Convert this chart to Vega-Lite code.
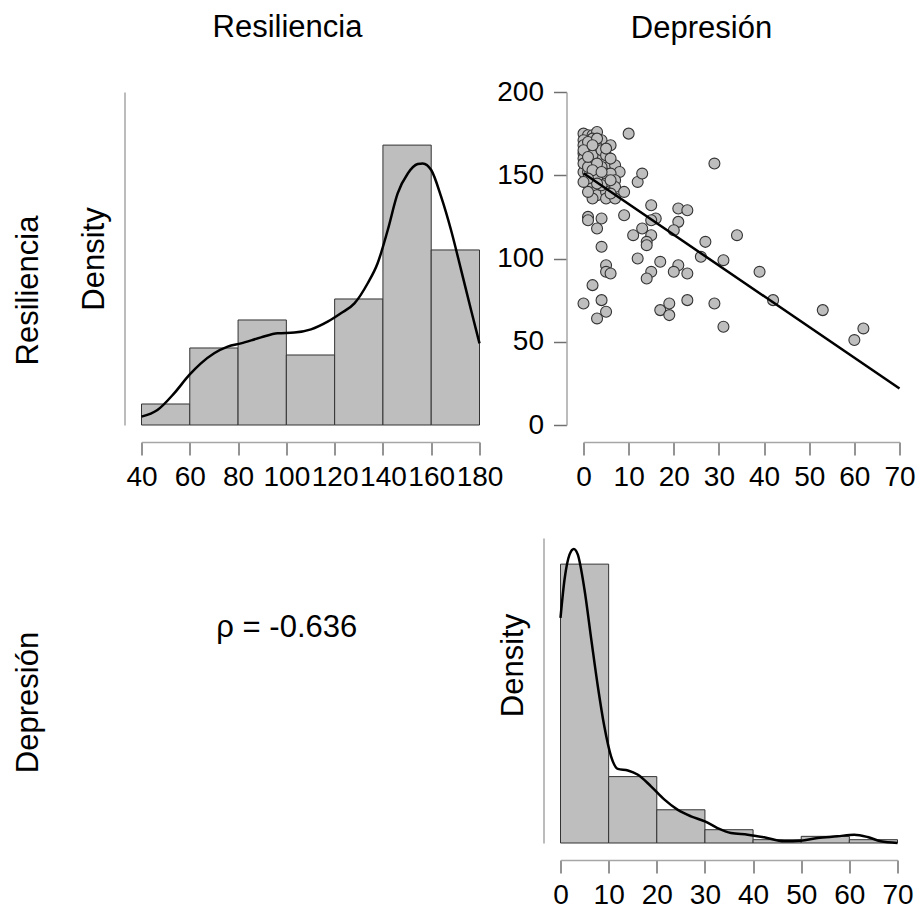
{
  "$schema": "https://vega.github.io/schema/vega-lite/v6.json",
  "background": "white",
  "padding": {"left": 12.5, "top": 12, "right": 0, "bottom": 0},
  "config": {
    "font": "Liberation Sans",
    "view": {"stroke": null},
    "axis": {"grid": false, "domainColor": "#a6a6a6", "domainWidth": 1.5, "tickColor": "#707070", "tickWidth": 1.5, "tickSize": 13, "labelFontSize": 28, "labelColor": "#000000", "labelFont": "Liberation Sans", "labelOverlap": false, "labelFlush": false, "labelBound": false, "titleFontSize": 31, "titleFontWeight": "normal", "titleColor": "#000000", "titleFont": "Liberation Sans", "offset": 17, "labelPadding": 8},
    "title": {"fontSize": 31, "fontWeight": "normal", "font": "Liberation Sans", "color": "#000000"}
  },
  "datasets": {
    "resHist": [
      {"lo": 40, "hi": 60, "density": 0.00123},
      {"lo": 60, "hi": 80, "density": 0.00451},
      {"lo": 80, "hi": 100, "density": 0.00615},
      {"lo": 100, "hi": 120, "density": 0.0041},
      {"lo": 120, "hi": 140, "density": 0.00738},
      {"lo": 140, "hi": 160, "density": 0.01639},
      {"lo": 160, "hi": 180, "density": 0.01025}
    ],
    "resDens": [
      {"value": 40, "density": 0.000488}, {"value": 46.6, "density": 0.000878}, {"value": 53.5, "density": 0.00185}, {"value": 59.8, "density": 0.00293}, {"value": 64.6, "density": 0.00361}, {"value": 70.1, "density": 0.0042}, {"value": 75.7, "density": 0.00459}, {"value": 81.2, "density": 0.00478}, {"value": 89.5, "density": 0.00513}, {"value": 96.4, "density": 0.00537}, {"value": 103.3, "density": 0.00541}, {"value": 110.2, "density": 0.0056}, {"value": 117.1, "density": 0.00605}, {"value": 122.6, "density": 0.00654}, {"value": 128.2, "density": 0.00712}, {"value": 133.7, "density": 0.0083}, {"value": 137.8, "density": 0.00947}, {"value": 142, "density": 0.01142}, {"value": 146.1, "density": 0.01356}, {"value": 150.3, "density": 0.01473}, {"value": 154.4, "density": 0.01528}, {"value": 156.5, "density": 0.01532}, {"value": 160, "density": 0.01493}, {"value": 164.1, "density": 0.01337}, {"value": 168.2, "density": 0.01142}, {"value": 172.4, "density": 0.00907}, {"value": 176.5, "density": 0.00673}, {"value": 180, "density": 0.00478}
    ],
    "depHist": [
      {"lo": 0, "hi": 10, "density": 0.06885},
      {"lo": 10, "hi": 20, "density": 0.01639},
      {"lo": 20, "hi": 30, "density": 0.0082},
      {"lo": 30, "hi": 40, "density": 0.00328},
      {"lo": 40, "hi": 50, "density": 0.00082},
      {"lo": 50, "hi": 60, "density": 0.00164},
      {"lo": 60, "hi": 70, "density": 0.00082}
    ],
    "depDens": [
      {"value": 0, "density": 0.0556}, {"value": 0.83, "density": 0.065}, {"value": 1.87, "density": 0.0712}, {"value": 2.77, "density": 0.0726}, {"value": 3.6, "density": 0.0712}, {"value": 4.98, "density": 0.0626}, {"value": 6.4, "density": 0.0502}, {"value": 7.75, "density": 0.0387}, {"value": 9.1, "density": 0.0288}, {"value": 10.5, "density": 0.0214}, {"value": 11.9, "density": 0.0183}, {"value": 14, "density": 0.0179}, {"value": 16, "density": 0.0169}, {"value": 18.8, "density": 0.014}, {"value": 21.6, "density": 0.0107}, {"value": 24.3, "density": 0.00823}, {"value": 27.1, "density": 0.00658}, {"value": 30, "density": 0.00535}, {"value": 32.6, "density": 0.0037}, {"value": 35.4, "density": 0.00247}, {"value": 38.9, "density": 0.00206}, {"value": 42.3, "density": 0.0014}, {"value": 46.5, "density": 0.00041}, {"value": 49.9, "density": 0.00058}, {"value": 53.4, "density": 0.00123}, {"value": 57.5, "density": 0.00165}, {"value": 61, "density": 0.00206}, {"value": 63.8, "density": 0.00148}, {"value": 66.5, "density": 0.00041}, {"value": 70, "density": 0.0}
    ],
    "scatter": [
      {"Depresion": 0, "Resiliencia": 175}, {"Depresion": 1, "Resiliencia": 174}, {"Depresion": 2, "Resiliencia": 174}, {"Depresion": 3, "Resiliencia": 176}, {"Depresion": 2, "Resiliencia": 172}, {"Depresion": 0, "Resiliencia": 171}, {"Depresion": 4, "Resiliencia": 171}, {"Depresion": 0, "Resiliencia": 168}, {"Depresion": 6, "Resiliencia": 168}, {"Depresion": 0, "Resiliencia": 163}, {"Depresion": 1, "Resiliencia": 164}, {"Depresion": 0, "Resiliencia": 160}, {"Depresion": 3, "Resiliencia": 162}, {"Depresion": 4, "Resiliencia": 160}, {"Depresion": 2, "Resiliencia": 157}, {"Depresion": 5, "Resiliencia": 157}, {"Depresion": 6, "Resiliencia": 156}, {"Depresion": 7, "Resiliencia": 156}, {"Depresion": 2, "Resiliencia": 159}, {"Depresion": 8, "Resiliencia": 152}, {"Depresion": 0, "Resiliencia": 152}, {"Depresion": 1, "Resiliencia": 152}, {"Depresion": 3, "Resiliencia": 153}, {"Depresion": 5, "Resiliencia": 151}, {"Depresion": 6, "Resiliencia": 151}, {"Depresion": 2, "Resiliencia": 150}, {"Depresion": 4, "Resiliencia": 148}, {"Depresion": 2, "Resiliencia": 147}, {"Depresion": 5, "Resiliencia": 147}, {"Depresion": 7, "Resiliencia": 147}, {"Depresion": 6, "Resiliencia": 143}, {"Depresion": 3, "Resiliencia": 143}, {"Depresion": 5, "Resiliencia": 145}, {"Depresion": 2, "Resiliencia": 141}, {"Depresion": 4, "Resiliencia": 140}, {"Depresion": 7, "Resiliencia": 143}, {"Depresion": 9, "Resiliencia": 140}, {"Depresion": 3, "Resiliencia": 138}, {"Depresion": 5, "Resiliencia": 140}, {"Depresion": 2, "Resiliencia": 136}, {"Depresion": 5, "Resiliencia": 136}, {"Depresion": 7, "Resiliencia": 136}, {"Depresion": 1, "Resiliencia": 170}, {"Depresion": 3, "Resiliencia": 167}, {"Depresion": 1, "Resiliencia": 158}, {"Depresion": 4, "Resiliencia": 155}, {"Depresion": 2, "Resiliencia": 165}, {"Depresion": 0, "Resiliencia": 157}, {"Depresion": 3, "Resiliencia": 148}, {"Depresion": 1, "Resiliencia": 145}, {"Depresion": 4, "Resiliencia": 144}, {"Depresion": 6, "Resiliencia": 139}, {"Depresion": 1, "Resiliencia": 140}, {"Depresion": 10, "Resiliencia": 175}, {"Depresion": 2, "Resiliencia": 162}, {"Depresion": 4, "Resiliencia": 165}, {"Depresion": 5, "Resiliencia": 162}, {"Depresion": 1, "Resiliencia": 155}, {"Depresion": 3, "Resiliencia": 157}, {"Depresion": 0, "Resiliencia": 165}, {"Depresion": 6, "Resiliencia": 160}, {"Depresion": 2, "Resiliencia": 153}, {"Depresion": 4, "Resiliencia": 152}, {"Depresion": 3, "Resiliencia": 145}, {"Depresion": 1, "Resiliencia": 148}, {"Depresion": 0, "Resiliencia": 146}, {"Depresion": 3, "Resiliencia": 172}, {"Depresion": 5, "Resiliencia": 166}, {"Depresion": 2, "Resiliencia": 168}, {"Depresion": 1, "Resiliencia": 161}, {"Depresion": 6, "Resiliencia": 147},
      {"Depresion": 12, "Resiliencia": 146}, {"Depresion": 13, "Resiliencia": 151}, {"Depresion": 29, "Resiliencia": 157}, {"Depresion": 15, "Resiliencia": 132}, {"Depresion": 21, "Resiliencia": 130}, {"Depresion": 23, "Resiliencia": 129}, {"Depresion": 16, "Resiliencia": 124}, {"Depresion": 15, "Resiliencia": 123}, {"Depresion": 9, "Resiliencia": 126}, {"Depresion": 1, "Resiliencia": 125}, {"Depresion": 1, "Resiliencia": 123}, {"Depresion": 4, "Resiliencia": 124}, {"Depresion": 3, "Resiliencia": 118}, {"Depresion": 21, "Resiliencia": 122}, {"Depresion": 20, "Resiliencia": 117}, {"Depresion": 13, "Resiliencia": 118}, {"Depresion": 11, "Resiliencia": 114}, {"Depresion": 15, "Resiliencia": 114}, {"Depresion": 14, "Resiliencia": 110}, {"Depresion": 14, "Resiliencia": 108}, {"Depresion": 34, "Resiliencia": 114}, {"Depresion": 27, "Resiliencia": 110}, {"Depresion": 4, "Resiliencia": 107}, {"Depresion": 26, "Resiliencia": 101}, {"Depresion": 31, "Resiliencia": 99}, {"Depresion": 12, "Resiliencia": 100}, {"Depresion": 17, "Resiliencia": 98}, {"Depresion": 21, "Resiliencia": 96}, {"Depresion": 5, "Resiliencia": 96}, {"Depresion": 5, "Resiliencia": 92}, {"Depresion": 6, "Resiliencia": 91}, {"Depresion": 15, "Resiliencia": 92}, {"Depresion": 14, "Resiliencia": 88}, {"Depresion": 20, "Resiliencia": 92}, {"Depresion": 23, "Resiliencia": 91}, {"Depresion": 39, "Resiliencia": 92}, {"Depresion": 2, "Resiliencia": 84}, {"Depresion": 0, "Resiliencia": 73}, {"Depresion": 4, "Resiliencia": 75}, {"Depresion": 5, "Resiliencia": 68}, {"Depresion": 3, "Resiliencia": 64}, {"Depresion": 17, "Resiliencia": 69}, {"Depresion": 19, "Resiliencia": 73}, {"Depresion": 19, "Resiliencia": 66}, {"Depresion": 23, "Resiliencia": 75}, {"Depresion": 29, "Resiliencia": 73}, {"Depresion": 31, "Resiliencia": 59}, {"Depresion": 42, "Resiliencia": 75}, {"Depresion": 53, "Resiliencia": 69}, {"Depresion": 60, "Resiliencia": 51}, {"Depresion": 62, "Resiliencia": 58}
    ],
    "fit": [
      {"Depresion": 0, "Resiliencia": 151.2},
      {"Depresion": 70, "Resiliencia": 21.9}
    ],
    "rho": [{"label": "ρ = -0.636"}]
  },
  "spacing": 47,
  "vconcat": [
    {
      "bounds": "flush",
      "spacing": 104,
      "hconcat": [
        {
          "width": 338,
          "height": 333,
          "title": {"text": "Resiliencia", "frame": "group", "offset": 48, "dx": -23},
          "layer": [
            {
              "data": {"name": "resHist"},
              "mark": {"type": "bar", "fill": "#bebebe", "stroke": "#333333", "strokeWidth": 1},
              "encoding": {
                "x": {"field": "lo", "type": "quantitative", "scale": {"domain": [40, 180], "nice": false, "zero": false}, "axis": {"values": [40, 60, 80, 100, 120, 140, 160, 180], "title": null, "labelPadding": 8}},
                "x2": {"field": "hi"},
                "y": {"field": "density", "type": "quantitative", "scale": {"domain": [0, 0.0195], "nice": false}, "axis": {"title": "Density", "ticks": false, "labels": false, "titlePadding": 14}},
                "y2": {"datum": 0}
              }
            },
            {
              "data": {"name": "resDens"},
              "mark": {"type": "line", "color": "#000000", "strokeWidth": 2.5, "interpolate": "monotone"},
              "encoding": {
                "x": {"field": "value", "type": "quantitative"},
                "y": {"field": "density", "type": "quantitative", "scale": {"domain": [0, 0.0195], "nice": false}, "axis": {"title": "Resiliencia", "orient": "left", "offset": 0, "domain": false, "ticks": false, "labels": false, "titleX": -112.7, "titleY": 198, "titleBaseline": "middle", "titleAlign": "center"}}
              }
            }
          ],
          "resolve": {"scale": {"y": "independent"}, "axis": {"y": "independent"}}
        },
        {
          "width": 316,
          "height": 333,
          "title": {"text": "Depresión", "frame": "group", "offset": 33, "dx": -40},
          "layer": [
            {
              "data": {"name": "scatter"},
              "mark": {"type": "circle", "size": 120, "fill": "#bebebe", "stroke": "#333333", "strokeWidth": 1.1, "opacity": 1},
              "encoding": {
                "x": {"field": "Depresion", "type": "quantitative", "scale": {"domain": [0, 70], "nice": false}, "axis": {"values": [0, 10, 20, 30, 40, 50, 60, 70], "title": null}},
                "y": {"field": "Resiliencia", "type": "quantitative", "scale": {"domain": [0, 200], "nice": false}, "axis": {"values": [0, 50, 100, 150, 200], "title": null, "labelPadding": 10}}
              }
            },
            {
              "data": {"name": "fit"},
              "mark": {"type": "line", "color": "#000000", "strokeWidth": 2.5},
              "encoding": {
                "x": {"field": "Depresion", "type": "quantitative"},
                "y": {"field": "Resiliencia", "type": "quantitative"}
              }
            }
          ]
        }
      ]
    },
    {
      "bounds": "flush",
      "spacing": 104,
      "hconcat": [
        {
          "width": 314.6,
          "height": 180,
          "data": {"name": "rho"},
          "mark": {"type": "text", "fontSize": 31, "font": "Liberation Sans", "color": "#000000", "dx": -12},
          "encoding": {
            "text": {"field": "label"},
            "y": {"datum": 0.5, "type": "quantitative", "scale": {"domain": [0, 1]}, "axis": {"title": "Depresión", "offset": 0, "domain": false, "ticks": false, "labels": false, "titleX": -112.7, "titleY": 164, "titleBaseline": "middle", "titleAlign": "center"}}
          }
        },
        {
          "width": 337,
          "height": 305,
          "layer": [
            {
              "data": {"name": "depHist"},
              "mark": {"type": "bar", "fill": "#bebebe", "stroke": "#333333", "strokeWidth": 1},
              "encoding": {
                "x": {"field": "lo", "type": "quantitative", "scale": {"domain": [0, 70], "nice": false, "zero": false}, "axis": {"values": [0, 10, 20, 30, 40, 50, 60, 70], "title": null}},
                "x2": {"field": "hi"},
                "y": {"field": "density", "type": "quantitative", "scale": {"domain": [0, 0.0753], "nice": false}, "axis": {"title": "Density", "ticks": false, "labels": false, "titlePadding": 14, "titleY": 127}},
                "y2": {"datum": 0}
              }
            },
            {
              "data": {"name": "depDens"},
              "mark": {"type": "line", "color": "#000000", "strokeWidth": 2.5, "interpolate": "monotone"},
              "encoding": {
                "x": {"field": "value", "type": "quantitative"},
                "y": {"field": "density", "type": "quantitative"}
              }
            }
          ]
        }
      ]
    }
  ]
}
